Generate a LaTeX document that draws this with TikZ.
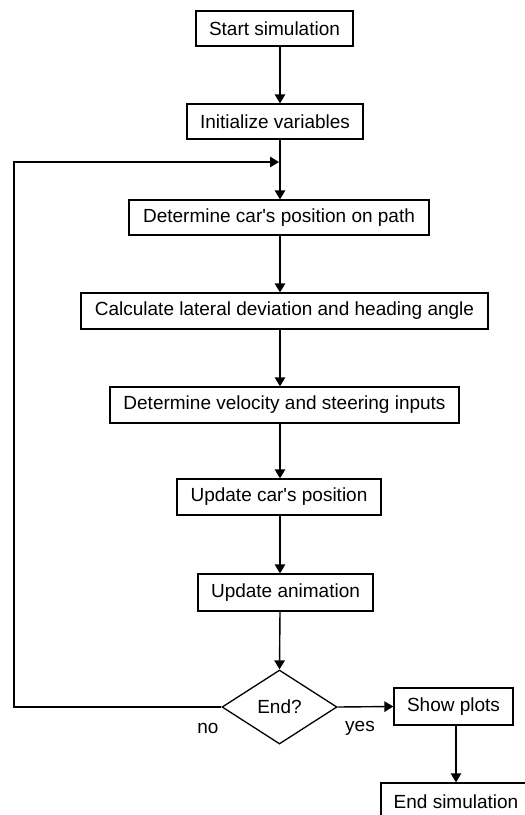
\documentclass[tikz,border=0pt]{standalone}
\usepackage{fontspec}
\setmainfont{Liberation Sans}
\usetikzlibrary{shapes.geometric,arrows.meta}
\begin{document}
\begin{tikzpicture}[x=1pt,y=-1pt,
  box/.style={draw,line width=1.3pt,inner sep=0pt,font=\fontsize{19}{22}\selectfont},
  dec/.style={draw,diamond,line width=1.3pt,inner sep=0pt,font=\fontsize{19}{22}\selectfont},
  lbl/.style={inner sep=0pt,font=\fontsize{19}{22}\selectfont},
  arr/.style={line width=1.4pt,-{Triangle[length=9pt,width=10.5pt]}},
  ln/.style={line width=1.4pt}]
\useasboundingbox (0,0) rectangle (525,815);
\fill[white] (0,0) rectangle (525,815);
\clip (0,0) rectangle (525,815);
\coordinate (ax) at (280,0);
\coordinate (bx) at (456,0);
\node[box,minimum width=157pt,minimum height=35pt] (start) at (274.5,28.5) {Start simulation};
\node[box,minimum width=176pt,minimum height=35pt] (init) at (275,121.5) {Initialize variables};
\node[box,minimum width=300pt,minimum height=35pt] (det) at (279,217.5) {Determine car\textquotesingle s position on path};
\node[box,minimum width=407pt,minimum height=36pt] (calc) at (284.5,311) {Calculate lateral deviation and heading angle};
\node[box,minimum width=349pt,minimum height=36pt] (vel) at (284.5,405) {Determine velocity and steering inputs};
\node[box,minimum width=204pt,minimum height=36pt] (upd) at (279,497) {Update car\textquotesingle s position};
\node[box,minimum width=175pt,minimum height=37pt] (anim) at (285.5,592.5) {Update animation};
\node[dec,minimum width=115pt,minimum height=74pt] (endq) at (279.5,707) {End?};
\node[box,minimum width=119pt,minimum height=37pt] (show) at (453.5,706.5) {Show plots};
\node[box,minimum width=150pt,minimum height=37pt] (endsim) at (456,801.5) {End simulation};
\node[lbl] (no) at (208,728) {no};
\node[lbl] (yes) at (360,728) {yes};
\coordinate (lb) at (14,707);
\coordinate (lt) at (14,162);
\coordinate (lj) at (279,162);
\draw[arr] (start.south -| ax) -- (init.north -| ax);
\draw[arr] (init.south -| ax) -- (det.north -| ax);
\draw[arr] (det.south -| ax) -- (calc.north -| ax);
\draw[arr] (calc.south -| ax) -- (vel.north -| ax);
\draw[arr] (vel.south -| ax) -- (upd.north -| ax);
\draw[arr] (upd.south -| ax) -- (anim.north -| ax);
\draw[arr] (anim.south -| ax) -- (endq.north);
\draw[arr] (endq.west) -- (lb) -- (lt) -- (lj);
\draw[arr] (endq.east) -- (show.west);
\draw[arr] (show.south -| bx) -- (endsim.north -| bx);
\end{tikzpicture}
\end{document}
